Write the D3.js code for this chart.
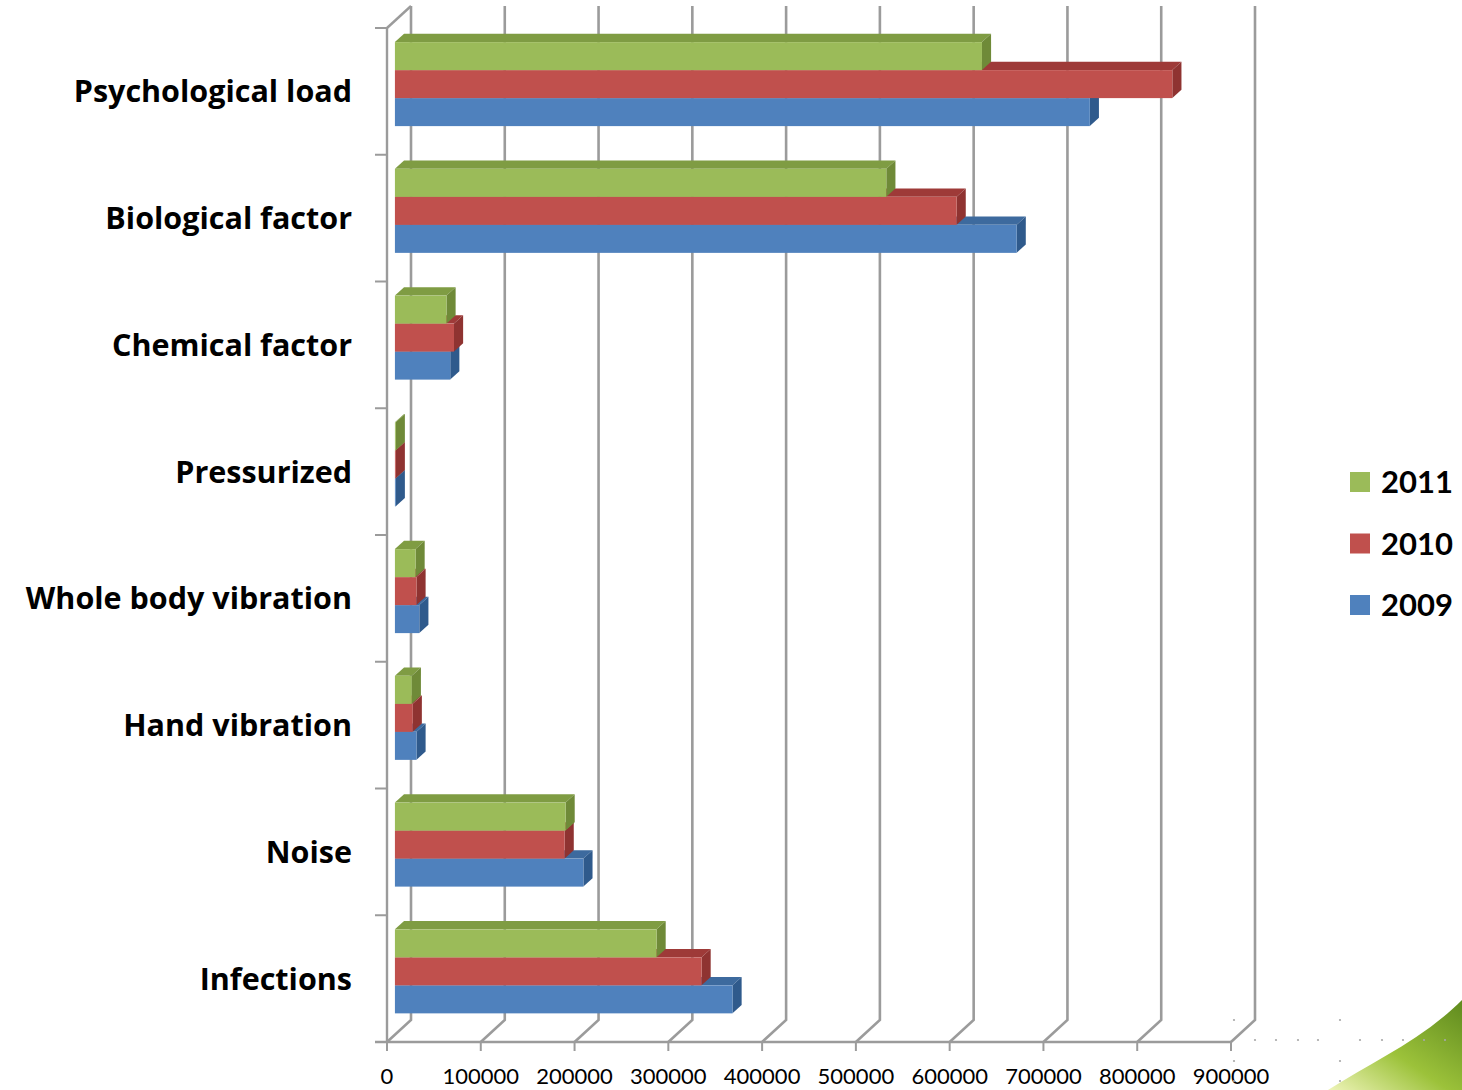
<!DOCTYPE html>
<html>
<head>
<meta charset="utf-8">
<style>
  html, body { margin: 0; padding: 0; background: #ffffff; }
  svg { display: block; }
</style>
<script src="https://cdn.jsdelivr.net/npm/d3@7"></script>
</head>
<body>
<svg id="chart" width="1462" height="1090"></svg>
<script>
'use strict';

// categories top to bottom, series top to bottom inside each group
var CATEGORIES = ['Psychological load', 'Biological factor', 'Chemical factor', 'Pressurized',
  'Whole body vibration', 'Hand vibration', 'Noise', 'Infections'];
var SERIES = ['2011', '2010', '2009'];
var VALUES_2011 = [626000, 524000, 55000, 900, 22000, 18000, 182000, 279000];
var VALUES_2010 = [829000, 599000, 63000, 900, 23000, 19000, 181000, 327000];
var VALUES_2009 = [741000, 663000, 59000, 900, 26000, 23000, 201000, 360000];
var TICKS = [0, 100000, 200000, 300000, 400000, 500000, 600000, 700000, 800000, 900000];

var COLORS = {
  '2011': { front: '#9bbb59', top: '#7f9c43', side: '#6f8a38' },
  '2010': { front: '#c0504d', top: '#9e3a38', side: '#8f3331' },
  '2009': { front: '#4f81bd', top: '#3d6a9e', side: '#2f5a8c' }
};

(function draw() {
  var svg = d3.select('#chart');
  var byYear = { '2011': VALUES_2011, '2010': VALUES_2010, '2009': VALUES_2009 };

  var top = 28, bottom = 1042;
  var DX = 24, DY = -22;          // full depth of the plot box
  var D0 = 0.33, D1 = 0.71;       // depth slot of the bars
  var grid = '#9b9b9b';

  var x = d3.scaleLinear().domain([0, 900000]).range([387, 1231]);
  var y = d3.scaleBand().domain(CATEGORIES).range([top, bottom]);
  var bw = y.bandwidth();
  var yIn = d3.scaleBand().domain(SERIES).range([(bw - 84) / 2, (bw + 84) / 2]);

  // back wall gridlines and floor diagonals
  var g = svg.append('g');
  TICKS.forEach(function (t) {
    var xb = x(t) + DX;
    g.append('path')
      .attr('d', 'M' + xb + ',' + (top + DY) + 'L' + xb + ',' + (bottom + DY) + 'L' + x(t) + ',' + bottom)
      .style('fill', 'none').style('stroke', grid).style('stroke-width', 2.6);
  });

  // front axes
  g.append('path')
    .attr('d', 'M' + x(0) + ',' + top + 'L' + (x(0) + DX) + ',' + (top + DY))
    .style('fill', 'none').style('stroke', grid).style('stroke-width', 2.4);
  g.append('line')
    .attr('x1', x(0)).attr('x2', x(0)).attr('y1', top).attr('y2', bottom)
    .style('stroke', grid).style('stroke-width', 2.4);
  g.append('line')
    .attr('x1', x(0) - 12).attr('x2', x(900000)).attr('y1', bottom).attr('y2', bottom)
    .style('stroke', grid).style('stroke-width', 2.4);
  CATEGORIES.concat(['__end']).forEach(function (c, i) {
    var yy = i < CATEGORIES.length ? y(c) : bottom;
    g.append('line')
      .attr('x1', x(0) - 12).attr('x2', x(0)).attr('y1', yy).attr('y2', yy)
      .style('stroke', grid).style('stroke-width', 2);
  });
  TICKS.forEach(function (t) {
    g.append('line')
      .attr('x1', x(t)).attr('x2', x(t)).attr('y1', bottom).attr('y2', bottom + 9)
      .style('stroke', grid).style('stroke-width', 2);
    g.append('text')
      .attr('x', x(t)).attr('y', 1084)
      .attr('text-anchor', 'middle')
      .style('font-family', 'Lato, "Open Sans", sans-serif')
      .style('font-size', '22px')
      .style('fill', '#000')
      .text(t);
  });

  // bars, drawn bottom series first so upper fronts hide lower tops
  var bars = svg.append('g');
  var fx = DX * D0, fy = DY * D0;
  var sx = DX * (D1 - D0), sy = DY * (D1 - D0);
  CATEGORIES.forEach(function (c, ci) {
    SERIES.slice().reverse().forEach(function (s) {
      var v = byYear[s][ci];
      var x0 = x(0) + fx, x1 = x(v) + fx;
      var y0 = y(c) + yIn(s) + fy, y1 = y0 + yIn.bandwidth();
      var col = COLORS[s];
      bars.append('path')
        .attr('d', 'M' + x0 + ',' + y0 + 'L' + (x0 + sx) + ',' + (y0 + sy) + 'L' + (x1 + sx) + ',' + (y0 + sy) + 'L' + x1 + ',' + y0 + 'Z')
        .style('fill', col.top);
      bars.append('path')
        .attr('d', 'M' + x1 + ',' + y0 + 'L' + (x1 + sx) + ',' + (y0 + sy) + 'L' + (x1 + sx) + ',' + (y1 + sy) + 'L' + x1 + ',' + y1 + 'Z')
        .style('fill', col.side);
      bars.append('rect')
        .attr('x', x0).attr('y', y0)
        .attr('width', Math.max(0, x1 - x0)).attr('height', y1 - y0)
        .style('fill', col.front);
    });
  });

  // category labels
  CATEGORIES.forEach(function (c) {
    svg.append('text')
      .attr('x', 352).attr('y', y(c) + bw / 2 + 11)
      .attr('text-anchor', 'end')
      .style('font-family', '"Open Sans", Lato, sans-serif')
      .style('font-weight', 'bold')
      .style('font-size', '30.5px')
      .style('fill', '#000')
      .text(c);
  });

  // legend
  var legend = svg.append('g').attr('transform', 'translate(1350,472)');
  SERIES.forEach(function (s, i) {
    legend.append('rect')
      .attr('x', 0).attr('y', i * 61.5)
      .attr('width', 20).attr('height', 20)
      .style('fill', COLORS[s].front);
    legend.append('text')
      .attr('x', 31).attr('y', i * 61.5 + 21)
      .style('font-family', 'Lato, "Open Sans", sans-serif')
      .style('font-weight', 'bold')
      .style('font-size', '31px')
      .style('fill', '#000')
      .text(s);
  });

  // slide decoration in the bottom right corner
  var defs = svg.append('defs');
  var grad = defs.append('linearGradient').attr('id', 'swoosh')
    .attr('x1', '0').attr('y1', '1').attr('x2', '1').attr('y2', '0');
  grad.append('stop').attr('offset', '0').attr('stop-color', '#eef4b8');
  grad.append('stop').attr('offset', '0.45').attr('stop-color', '#9cc23a');
  grad.append('stop').attr('offset', '1').attr('stop-color', '#5f8a1e');
  svg.append('path')
    .attr('d', 'M1328,1090 C1372,1062 1422,1040 1462,1000 L1462,1090 Z')
    .style('fill', 'url(#swoosh)');
  var dots = svg.append('g').style('fill', '#a8a8a8');
  [1255, 1276, 1298, 1318, 1360, 1382, 1403, 1424, 1445].forEach(function (dx) {
    dots.append('circle').attr('cx', dx).attr('cy', 1040).attr('r', 1.1);
  });
  [1020, 1061, 1081].forEach(function (dy) {
    dots.append('circle').attr('cx', 1340).attr('cy', dy).attr('r', 1.1);
    dots.append('circle').attr('cx', 1234).attr('cy', dy).attr('r', 1.1);
  });
}());
</script>
</body>
</html>
